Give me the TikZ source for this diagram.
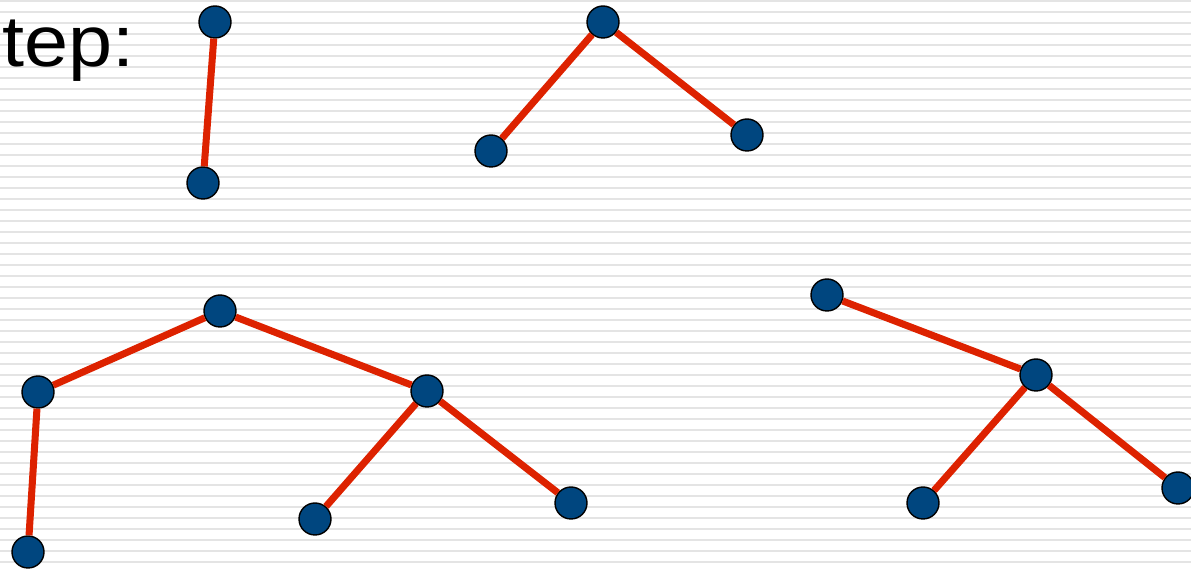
\documentclass[tikz,border=0pt]{standalone}
\usepackage{fontspec}
\setmainfont{Liberation Sans}
\usetikzlibrary{positioning}
\definecolor{nodeblue}{RGB}{0,70,127}
\definecolor{edgered}{RGB}{221,34,0}
\definecolor{stripe}{RGB}{228,228,228}

\begin{document}
\begin{tikzpicture}[x=0.02cm,y=-0.02cm,
  vtx/.style={circle,draw=black,line width=0.8pt,fill=nodeblue,minimum size=0.64cm,inner sep=0pt},
  link/.style={edgered,line width=4pt}]
\useasboundingbox (0,0) rectangle (1191,570);
\clip (0,0) rectangle (1191,570);
\foreach \k in {0,...,51}
  \fill[stripe] (0,{0.7+11*\k-1}) rectangle (1191,{0.7+11*\k+1});
\node[anchor=base east,inner sep=0pt,xscale=1.1,font=\fontsize{41}{49}\selectfont] (lbl) at (135,67) {step:};
% first tree
\node[vtx] (a) at (215,22) {};
\node[vtx] (b) at (203,183) {};
% second tree
\node[vtx] (c) at (603,22) {};
\node[vtx] (d) at (491,151) {};
\node[vtx] (e) at (747,135) {};
% merged tree
\node[vtx] (f) at (220,311) {};
\node[vtx] (g) at (38,392) {};
\node[vtx] (h) at (28,552) {};
\node[vtx] (i) at (427,391) {};
\node[vtx] (j) at (315,519) {};
\node[vtx] (k) at (571,503) {};
% right tree
\node[vtx] (l) at (827,295) {};
\node[vtx] (m) at (1036,375) {};
\node[vtx] (n) at (923,503) {};
\node[vtx] (o) at (1178,488) {};
\foreach \u/\v in {a/b,c/d,c/e,f/g,g/h,f/i,i/j,i/k,l/m,m/n,m/o}
  \draw[link] (\u) -- (\v);
\end{tikzpicture}
\end{document}
